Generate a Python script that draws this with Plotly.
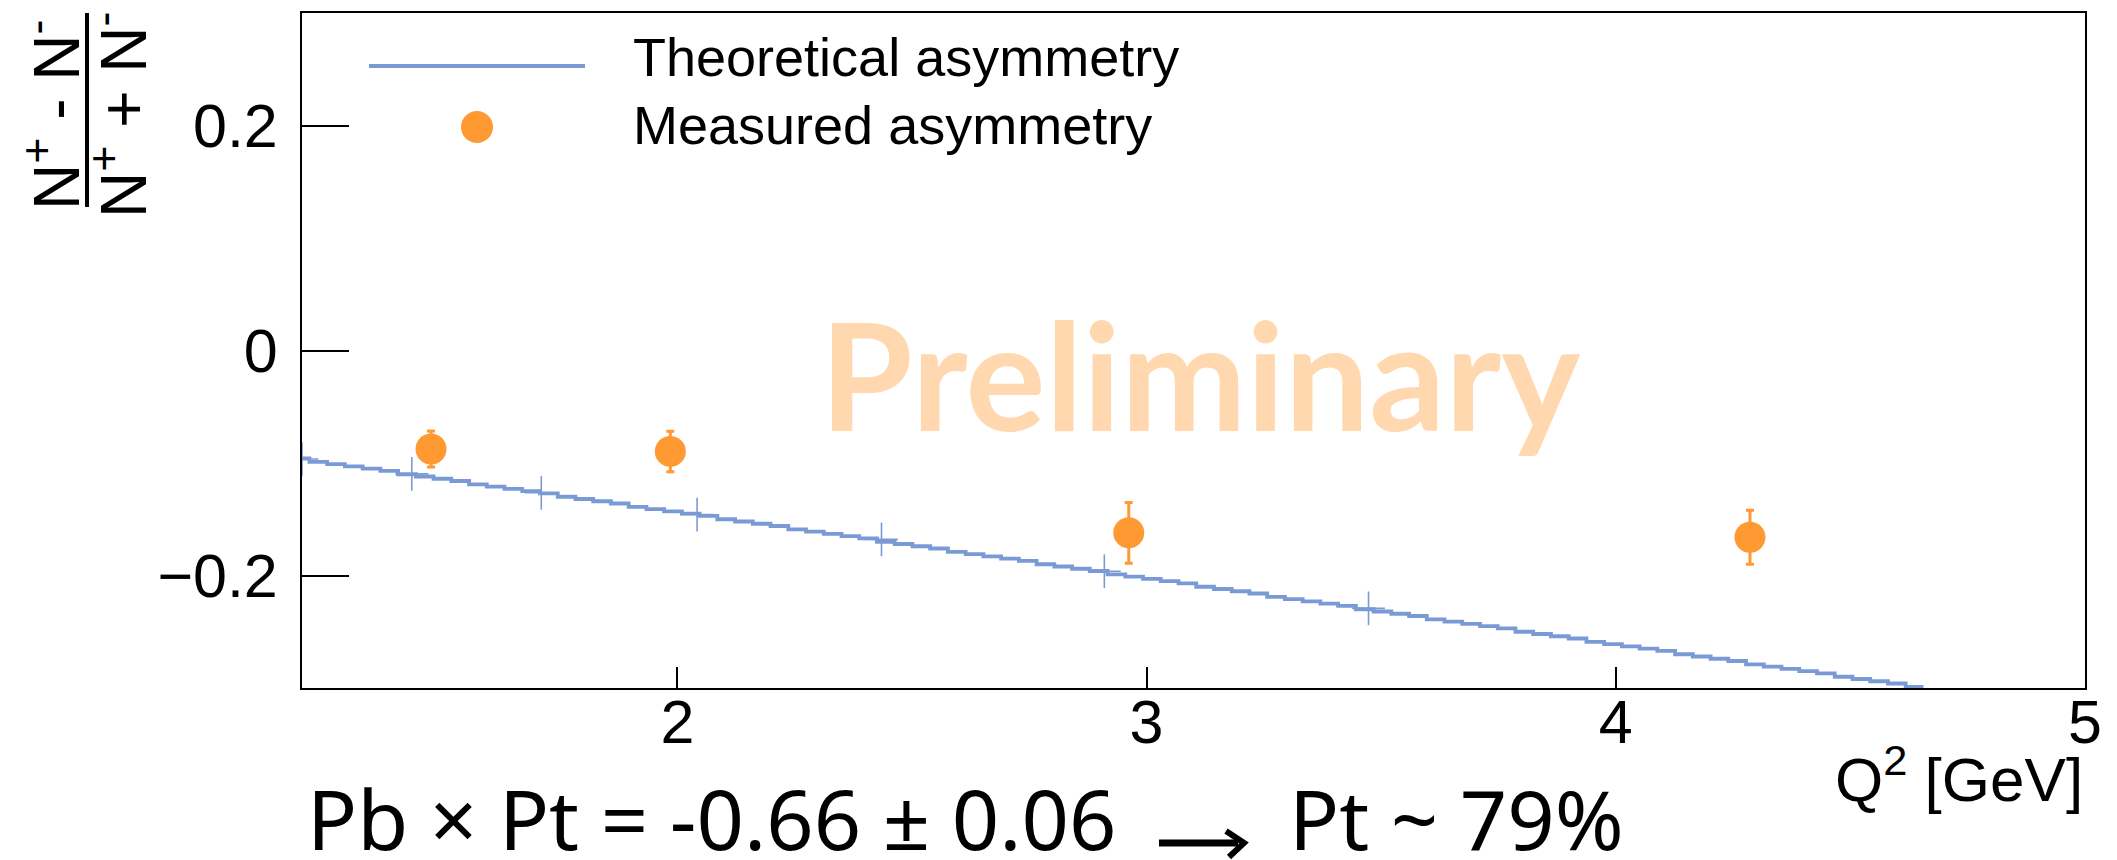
import plotly.graph_objects as go

# ---------------- data ----------------
# Theoretical asymmetry: fine histogram (uniform bins) of A vs Q^2
theory_bin_lo = 1.178
theory_bin_width = 0.0378
theory_values = [
    -0.096, -0.099, -0.101, -0.103, -0.105, -0.107, -0.110, -0.112, -0.114, -0.116,
    -0.119, -0.121, -0.123, -0.125, -0.127, -0.130, -0.132, -0.134, -0.136, -0.139,
    -0.141, -0.143, -0.145, -0.147, -0.150, -0.152, -0.154, -0.156, -0.159, -0.161,
    -0.163, -0.165, -0.167, -0.170, -0.172, -0.174, -0.176, -0.179, -0.181, -0.183,
    -0.185, -0.187, -0.190, -0.192, -0.194, -0.196, -0.199, -0.201, -0.203, -0.205,
    -0.207, -0.210, -0.212, -0.214, -0.216, -0.219, -0.221, -0.223, -0.225, -0.227,
    -0.230, -0.232, -0.234, -0.236, -0.239, -0.241, -0.243, -0.245, -0.247, -0.250,
    -0.252, -0.254, -0.256, -0.259, -0.261, -0.263, -0.265, -0.267, -0.270, -0.272,
    -0.274, -0.276, -0.279, -0.281, -0.283, -0.285, -0.287, -0.290, -0.292, -0.294,
    -0.296, -0.299,
]

# Theory calculation nodes (crosses with error bars)
node_q2 = [1.200, 1.434, 1.710, 2.042, 2.435, 2.910, 3.473]
node_a = [-0.0965, -0.1097, -0.1265, -0.1458, -0.1679, -0.1962, -0.2292]
node_err_y = [0.015, 0.015, 0.015, 0.015, 0.015, 0.015, 0.015]
node_err_x = [0.035, 0.035, 0.035, 0.035, 0.035, 0.035, 0.035]

# Measured asymmetry
meas_q2 = [1.475, 1.985, 2.962, 4.286]
meas_a = [-0.0876, -0.0897, -0.162, -0.166]
meas_err = [0.016, 0.018, 0.027, 0.024]

x_ticks = [2, 3, 4, 5]
y_ticks = [-0.2, 0, 0.2]
y_tick_text = ["\u22120.2", "0", "0.2"]

# ---------------- styling ----------------
BLUE = "#7A9AD6"
ORANGE = "#FF9A33"
W, H = 2117, 860
L, R, T, B = 302, 32, 13, 172
PW, PH = W - L - R, H - T - B


def px(xp):
    return (xp - L) / PW


def py(yp):
    return (H - B - yp) / PH


# staircase edges from the uniform binning
edges = [theory_bin_lo + i * theory_bin_width for i in range(len(theory_values) + 1)]
step_x = edges
step_y = theory_values + [theory_values[-1]]

fig = go.Figure()

fig.add_trace(go.Scatter(
    x=step_x, y=step_y, mode="lines", line=dict(color=BLUE, width=3.8, shape="hv"),
    name="Theoretical asymmetry", showlegend=False, hoverinfo="skip",
))

fig.add_trace(go.Scatter(
    x=node_q2, y=node_a, mode="markers",
    marker=dict(size=1, color=BLUE),
    error_y=dict(type="data", array=node_err_y, color=BLUE, thickness=1.6, width=0),
    error_x=dict(type="data", array=node_err_x, color=BLUE, thickness=1.6, width=0),
    showlegend=False, hoverinfo="skip",
))

fig.add_trace(go.Scatter(
    x=meas_q2, y=meas_a, mode="markers",
    marker=dict(size=31, color=ORANGE, line=dict(width=0)),
    error_y=dict(type="data", array=meas_err, color=ORANGE, thickness=3, width=4),
    name="Measured asymmetry", showlegend=False,
))

axis_common = dict(
    showgrid=False, zeroline=False, showline=True, linecolor="black", linewidth=2,
    mirror=True, ticks="inside", tickcolor="black", tickwidth=2,
    tickfont=dict(family="Liberation Sans, Arial, sans-serif", size=61, color="black"),
)

fig.update_xaxes(range=[1.2, 5.0], tickvals=x_ticks, ticktext=[str(v) for v in x_ticks],
                 ticklen=21, ticklabelstandoff=-20, **axis_common)
fig.update_yaxes(range=[-0.3, 0.3], tickvals=y_ticks, ticktext=y_tick_text,
                 ticklen=47, ticklabelstandoff=10, **axis_common)

shapes = []
ann = []

# manual legend
shapes.append(dict(type="line", xref="paper", yref="paper", x0=px(369), x1=px(585),
                   y0=py(66), y1=py(66), line=dict(color=BLUE, width=4)))
shapes.append(dict(type="circle", xref="paper", yref="paper", xsizemode="pixel",
                   ysizemode="pixel", xanchor=px(477), yanchor=py(127),
                   x0=-16, x1=16, y0=-16, y1=16, fillcolor=ORANGE, line=dict(width=0)))
leg_font = dict(family="Liberation Sans, Arial, sans-serif", size=54, color="black")
ann.append(dict(text="Theoretical asymmetry", xref="paper", yref="paper", x=px(631), y=py(57),
                xanchor="left", yanchor="middle", showarrow=False, font=leg_font))
ann.append(dict(text="Measured asymmetry", xref="paper", yref="paper", x=px(631), y=py(125),
                xanchor="left", yanchor="middle", showarrow=False, font=leg_font))

# Preliminary watermark
ann.append(dict(text="Preliminary", xref="paper", yref="paper", x=px(1200), y=py(373),
                xanchor="center", yanchor="middle", showarrow=False,
                font=dict(family="Lato, sans-serif", size=150, color="#FFD8AF", weight=700)))

# y-axis title as a rotated fraction
yt_font = dict(family="Liberation Sans, Arial, sans-serif", size=64, color="black")
ann.append(dict(text="N<sup>+</sup> - N<sup>-</sup>", xref="paper", yref="paper",
                x=px(52), y=py(115), xanchor="center", yanchor="middle",
                textangle=-90, showarrow=False, font=yt_font))
ann.append(dict(text="N<sup>+</sup> + N<sup>-</sup>", xref="paper", yref="paper",
                x=px(119), y=py(115), xanchor="center", yanchor="middle",
                textangle=-90, showarrow=False, font=yt_font))
shapes.append(dict(type="line", xref="paper", yref="paper", x0=px(87), x1=px(87),
                   y0=py(13), y1=py(207), line=dict(color="black", width=4)))

# x-axis title
ann.append(dict(text="Q<sup>2</sup> [GeV]", xref="paper", yref="paper", x=px(2085), y=py(775),
                xanchor="right", yanchor="middle", showarrow=False,
                font=dict(family="Liberation Sans, Arial, sans-serif", size=62, color="black")))

# bottom statement
bt_font = dict(family="Noto Sans, sans-serif", size=83, color="black")
ann.append(dict(text="Pb \u00d7 Pt = -0.66 \u00b1 0.06", xref="paper", yref="paper",
                x=px(305), y=py(817), xanchor="left", yanchor="middle", showarrow=False,
                font=bt_font))
ann.append(dict(text="Pt ~ 79%", xref="paper", yref="paper",
                x=px(1287), y=py(817), xanchor="left", yanchor="middle", showarrow=False,
                font=bt_font))
# arrow
shapes.append(dict(type="line", xref="paper", yref="paper", x0=px(1159), x1=px(1238),
                   y0=py(843), y1=py(843), line=dict(color="black", width=7)))
shapes.append(dict(type="path", xref="paper", yref="paper",
                   path=f"M {px(1226)} {py(831)} L {px(1244)} {py(843)} L {px(1229)} {py(857)}",
                   line=dict(color="black", width=6)))

fig.update_layout(
    width=W, height=H, margin=dict(l=L, r=R, t=T, b=B, autoexpand=False),
    paper_bgcolor="white", plot_bgcolor="white", showlegend=False,
    shapes=shapes, annotations=ann,
)

fig.write_html("out.html")
